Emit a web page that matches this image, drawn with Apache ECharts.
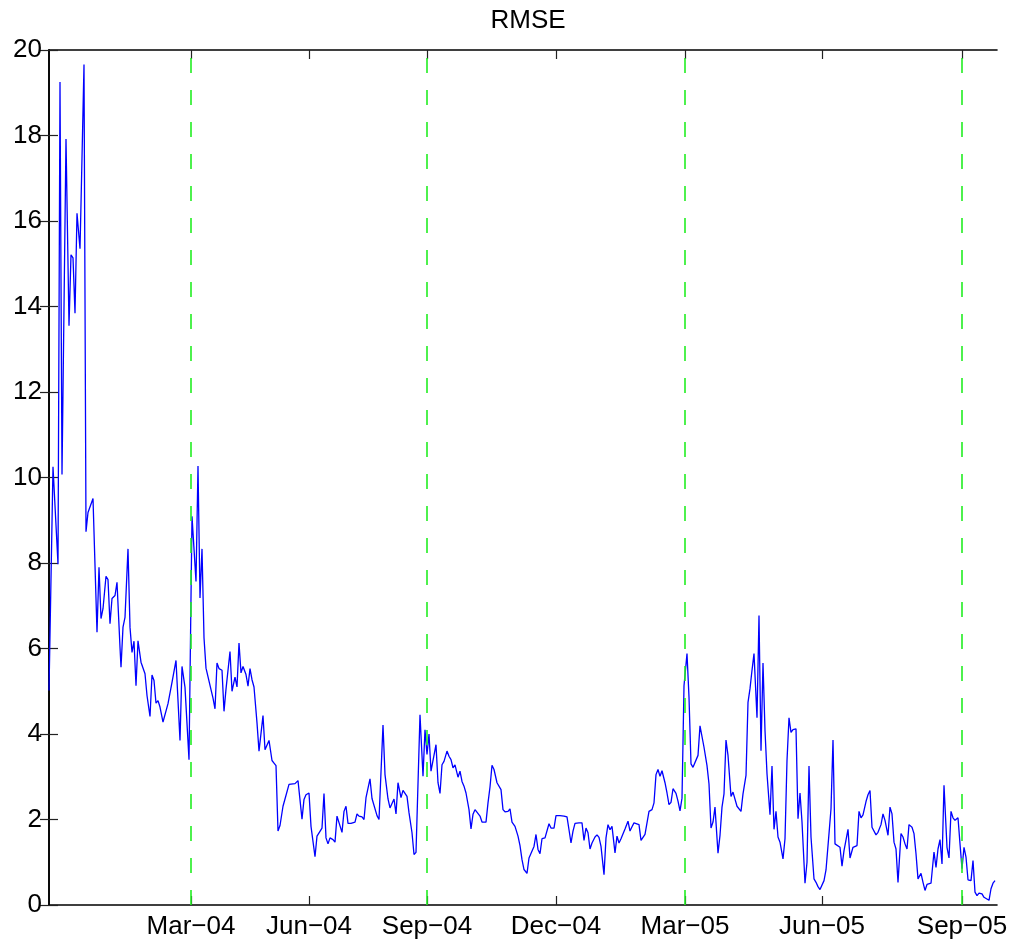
<!DOCTYPE html>
<html>
<head>
<meta charset="utf-8">
<title>RMSE</title>
<script src="https://cdn.jsdelivr.net/npm/echarts@6/dist/echarts.min.js"></script>
<style>
    html, body { margin: 0; padding: 0; background: #fff; }
    #chart { width: 1015px; height: 946px; }
</style>
</head>
<body>
<div id="chart"></div>
<script>
// sample position along the series (trading-day scale) and the RMSE read at it
const sampleT = [
    0, 4, 9, 11, 13, 17, 20, 22, 24, 26, 28, 31, 32, 35, 37, 39, 44, 48, 50, 52,
    54, 57, 59, 61, 63, 66, 68, 71, 72, 74, 76, 79, 81, 83, 85, 87, 89, 92, 96, 98,
    101, 103, 105, 107, 109, 111, 114, 116, 119, 123, 127, 131, 133, 136, 140, 143, 145, 147, 149, 151,
    153, 155, 157, 159, 162, 164, 166, 168, 170, 173, 175, 177, 179, 181, 183, 186, 188, 190, 192, 194,
    197, 199, 201, 203, 205, 208, 210, 212, 214, 216, 218, 220, 223, 225, 227, 229, 231, 234, 236, 238,
    240, 242, 246, 249, 251, 253, 255, 257, 260, 262, 264, 266, 268, 270, 273, 275, 277, 279, 281, 284,
    286, 288, 290, 293, 295, 297, 299, 302, 306, 308, 310, 313, 315, 317, 319, 321, 323, 325, 328, 330,
    334, 336, 339, 341, 343, 345, 347, 349, 352, 354, 356, 358, 360, 363, 365, 367, 369, 371, 374, 376,
    378, 380, 382, 384, 387, 389, 391, 393, 395, 398, 400, 402, 404, 406, 409, 411, 413, 415, 417, 420,
    422, 424, 426, 428, 431, 433, 435, 437, 439, 441, 443, 445, 448, 450, 452, 454, 456, 459, 461, 463,
    466, 469, 471, 473, 475, 478, 480, 482, 485, 487, 489, 491, 493, 496, 498, 500, 502, 505, 507, 511,
    515, 518, 520, 522, 524, 526, 528, 530, 533, 535, 537, 539, 541, 543, 546, 548, 550, 552, 555, 557,
    559, 561, 563, 566, 568, 570, 572, 574, 576, 579, 581, 583, 585, 587, 590, 592, 594, 596, 598, 600,
    603, 605, 607, 609, 611, 613, 616, 618, 620, 622, 624, 627, 629, 631, 633, 635, 638, 640, 642, 644,
    646, 649, 651, 653, 655, 658, 660, 662, 664, 666, 669, 671, 673, 675, 677, 679, 682, 684, 686, 688,
    690, 692, 694, 697, 699, 701, 703, 705, 708, 710, 712, 714, 716, 718, 721, 723, 725, 727, 729, 731,
    734, 736, 738, 740, 742, 744, 747, 749, 751, 753, 756, 758, 760, 762, 765, 767, 769, 771, 773, 775,
    777, 780, 782, 784, 786, 788, 791, 793, 795, 797, 799, 801, 804, 806, 808, 810, 812, 814, 817, 819,
    821, 823, 825, 827, 829, 832, 834, 836, 839, 841, 843, 845, 847, 849, 852, 854, 856, 858, 860, 863,
    865, 867, 869, 872, 874, 876, 878, 880, 882, 885, 887, 889, 891, 893, 895, 898, 900, 902, 904, 906,
    909, 911, 913, 915, 917, 919, 922, 924, 926, 928, 930, 933, 935, 937, 940, 942, 944, 946
];
const rmse = [
    5.02, 10.25, 7.97, 19.25, 10.07, 17.92, 13.55, 15.21, 15.14, 13.84, 16.18, 15.35, 16.4, 19.66, 8.73, 9.18, 9.51, 6.38, 7.90, 6.70,
    6.93, 7.69, 7.61, 6.58, 7.17, 7.24, 7.55, 6.03, 5.56, 6.50, 6.73, 8.33, 6.50, 5.91, 6.17, 5.13, 6.18, 5.68, 5.41, 4.90,
    4.41, 5.38, 5.25, 4.72, 4.78, 4.63, 4.28, 4.26, 4.71, 5.21, 5.72, 3.85, 5.58, 5.09, 3.40, 9.09, 9.09, 7.57, 10.27, 7.18,
    8.33, 6.25, 5.54, 5.58, 5.04, 4.84, 4.59, 5.66, 5.53, 5.49, 4.53, 5.05, 5.08, 5.93, 5.00, 5.33, 5.10, 6.13, 5.43, 5.58,
    5.39, 5.12, 5.53, 5.27, 5.10, 4.26, 3.60, 3.57, 4.43, 3.63, 3.67, 3.85, 3.38, 3.32, 3.26, 1.73, 1.86, 2.31, 2.48, 2.50,
    2.82, 2.83, 2.84, 2.91, 2.91, 2.01, 2.47, 2.58, 2.62, 1.84, 1.83, 1.13, 1.61, 1.63, 1.80, 2.61, 1.57, 1.43, 1.57, 1.53,
    1.47, 2.08, 2.08, 1.70, 2.19, 2.31, 1.91, 1.91, 1.94, 2.13, 2.08, 2.06, 2.00, 2.51, 2.53, 2.95, 2.49, 2.48, 2.09, 2.00,
    4.21, 3.05, 2.48, 2.27, 2.27, 2.48, 2.13, 2.86, 2.51, 2.68, 2.66, 2.54, 2.16, 1.69, 1.18, 1.23, 1.26, 4.45, 3.01, 4.10,
    3.52, 4.00, 3.13, 3.10, 3.75, 2.86, 2.61, 3.28, 3.36, 3.60, 3.48, 3.40, 3.21, 3.28, 2.99, 3.13, 2.89, 2.78, 2.62, 2.23,
    1.78, 2.12, 2.23, 2.25, 2.08, 1.94, 1.96, 1.94, 2.39, 2.76, 3.27, 3.17, 2.86, 2.82, 2.70, 2.23, 2.18, 2.19, 2.25, 1.94,
    1.84, 1.61, 1.39, 1.06, 0.83, 0.74, 1.10, 1.06, 1.37, 1.65, 1.30, 1.20, 1.55, 1.57, 1.55, 1.90, 1.80, 1.80, 2.09, 2.09,
    2.08, 2.06, 1.76, 1.45, 1.73, 1.91, 1.94, 1.92, 1.92, 1.51, 1.80, 1.69, 1.31, 1.45, 1.59, 1.64, 1.58, 1.37, 0.71, 1.57,
    1.88, 1.76, 1.84, 1.22, 1.61, 1.45, 1.55, 1.57, 1.78, 1.96, 1.73, 1.83, 1.92, 1.94, 1.88, 1.51, 1.58, 1.65, 1.69, 2.19,
    2.23, 2.39, 3.05, 3.17, 3.01, 3.14, 2.86, 2.62, 2.35, 2.40, 2.72, 2.61, 2.43, 2.20, 2.50, 5.13, 5.88, 4.86, 3.30, 3.22,
    3.21, 3.50, 4.19, 4.18, 3.69, 3.26, 2.83, 1.80, 1.94, 2.29, 1.21, 1.63, 2.29, 2.60, 3.86, 3.50, 2.54, 2.64, 2.62, 2.31,
    2.29, 2.19, 2.60, 3.03, 4.74, 5.06, 5.49, 5.88, 4.38, 6.77, 3.61, 5.66, 4.08, 3.07, 2.11, 3.25, 1.77, 2.19, 1.59, 1.47,
    1.08, 1.55, 3.38, 4.38, 4.04, 4.10, 4.12, 2.02, 2.62, 1.94, 0.51, 1.00, 3.25, 1.59, 0.61, 0.53, 0.43, 0.36, 0.32, 0.57,
    0.82, 1.67, 2.25, 3.86, 1.43, 1.42, 1.35, 0.91, 1.27, 1.31, 1.77, 1.10, 1.35, 1.39, 1.39, 2.19, 2.04, 2.11, 2.42, 2.58,
    2.68, 1.82, 1.78, 1.64, 1.70, 1.88, 2.13, 1.98, 1.63, 2.29, 2.13, 1.47, 1.31, 0.53, 1.67, 1.59, 1.43, 1.31, 1.88, 1.82,
    1.67, 1.20, 0.61, 0.74, 0.53, 0.34, 0.48, 0.44, 0.51, 1.24, 0.88, 1.31, 1.53, 0.96, 2.80, 1.35, 1.10, 2.19, 2.04, 1.98,
    2.04, 1.43, 0.85, 1.35, 1.12, 0.59, 0.57, 1.04, 0.30, 0.22, 0.28, 0.26, 0.18, 0.15, 0.11, 0.38, 0.51, 0.57
];

// date ticks on the x axis
const tickPos = [142, 260, 378, 507, 636, 773, 913];
const tickLabels = ['Mar−04', 'Jun−04', 'Sep−04', 'Dec−04', 'Mar−05', 'Jun−05', 'Sep−05'];
// green dashed separators
const breakPos = [142, 378, 636, 913];

const tMax = 948;
const font = '"Liberation Sans", Helvetica, Arial, sans-serif';

const chart = echarts.init(document.getElementById('chart'));
const points = sampleT.map((t, i) => [t, rmse[i]]);

const lineCol = { color: '#000', width: 1.6 };
const tickStyle = { show: true, inside: true, length: 9, lineStyle: { color: '#222', width: 1.2 } };

const option = {
    animation: false,
    title: {
        text: 'RMSE',
        left: 523,
        top: 3,
        textAlign: 'center',
        textStyle: { fontFamily: font, fontSize: 26, fontWeight: 'normal', color: '#000' }
    },
    grid: { left: 49, right: 18, top: 50, bottom: 41 },
    xAxis: [
        {
            type: 'value', min: 0, max: tMax, position: 'bottom',
            axisLine: { show: true, onZero: false, lineStyle: lineCol },
            axisTick: Object.assign({ customValues: tickPos }, tickStyle),
            axisLabel: {
                customValues: tickPos,
                formatter: v => tickLabels[tickPos.indexOf(v)] || '',
                fontFamily: font, fontSize: 26, color: '#000', margin: 9
            },
            splitLine: { show: false }
        },
        {
            type: 'value', min: 0, max: tMax, position: 'top',
            axisLine: { show: true, onZero: false, lineStyle: lineCol },
            axisTick: Object.assign({ customValues: tickPos }, tickStyle),
            axisLabel: { show: false },
            splitLine: { show: false }
        }
    ],
    yAxis: [
        {
            type: 'value', min: 0, max: 20, interval: 2, position: 'left',
            axisLine: { show: true, lineStyle: lineCol },
            axisTick: tickStyle,
            axisLabel: { fontFamily: font, fontSize: 26, color: '#000', margin: 7 },
            splitLine: { show: false }
        },
        {
            type: 'value', min: 0, max: 20, interval: 2, position: 'right',
            axisLine: { show: true, lineStyle: lineCol },
            axisTick: tickStyle,
            axisLabel: { show: false },
            splitLine: { show: false }
        }
    ],
    series: [
        {
            name: 'RMSE',
            type: 'line',
            data: points,
            symbol: 'none',
            lineStyle: { color: '#0000ff', width: 1.3 },
            markLine: {
                silent: true,
                symbol: ['none', 'none'],
                label: { show: false },
                lineStyle: { color: '#22ee22', width: 1.6, type: [15, 17] },
                data: breakPos.map(x => ({ xAxis: x }))
            }
        }
    ]
};
chart.setOption(option);
</script>
</body>
</html>
